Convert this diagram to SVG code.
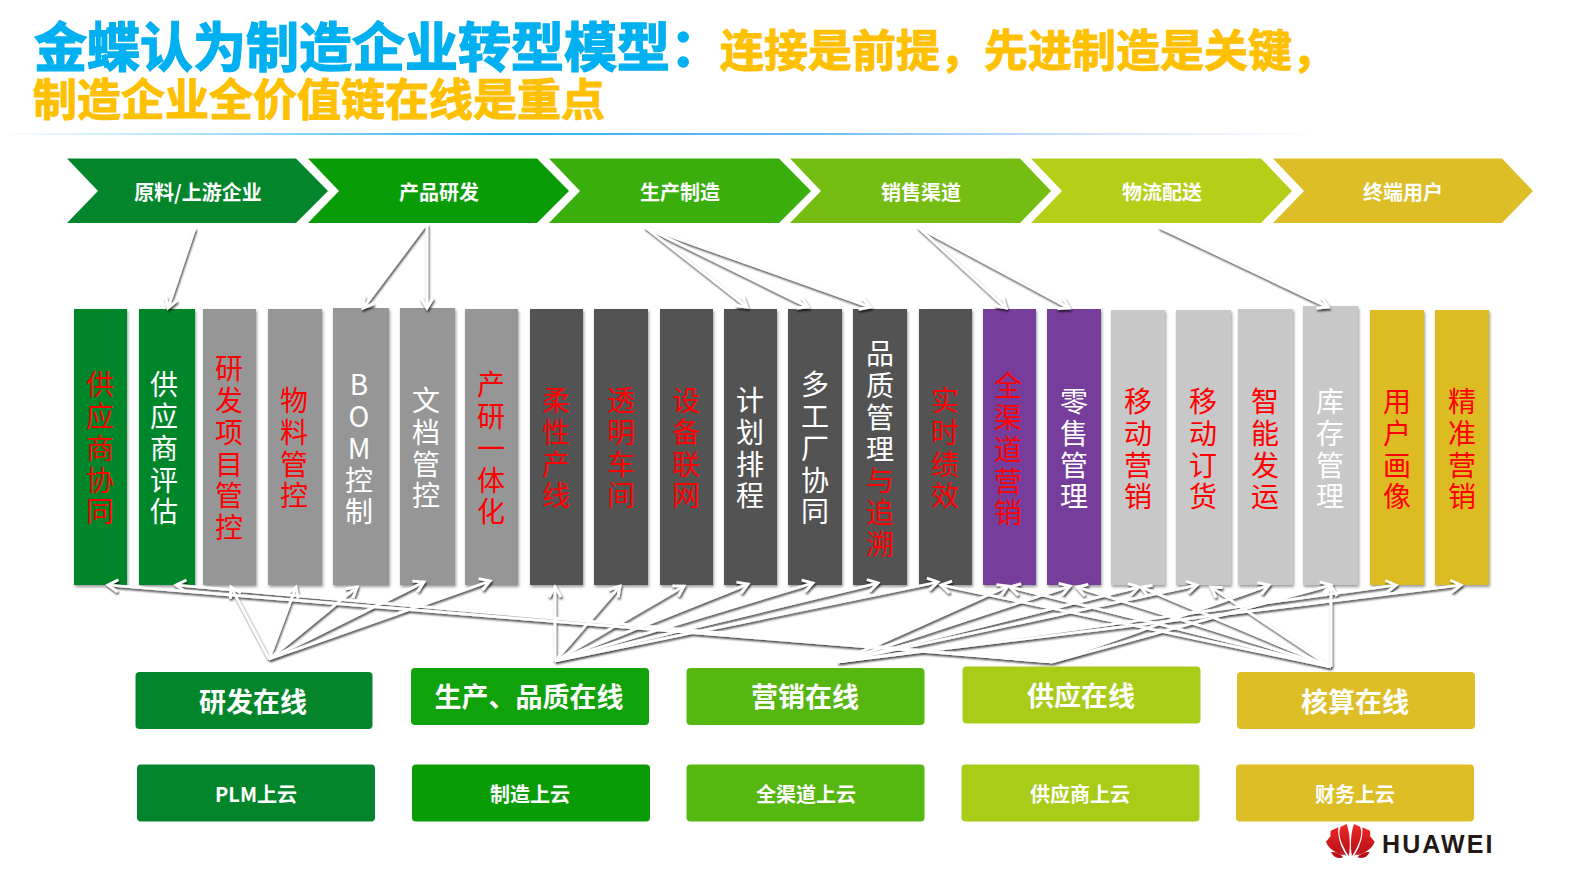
<svg xmlns="http://www.w3.org/2000/svg" width="1587" height="892" viewBox="0 0 1587 892">
<style>
text{font-family:"Noto Sans CJK SC","Noto Sans",sans-serif}
.t1{font-size:53px;font-weight:700;fill:#00b0f0;stroke:#00b0f0;stroke-width:1.4px}
.t2{font-size:44px;font-weight:700;fill:#ffc000;stroke:#ffc000;stroke-width:1px}
.ch{font-size:20px;font-weight:700;fill:#fff;text-anchor:middle}
.bx{font-size:27px;font-weight:700;fill:#fff;text-anchor:middle}
.by{font-size:20px;font-weight:700;fill:#fff;text-anchor:middle}
.col{font-size:28px;fill:#fff;writing-mode:vertical-rl;text-orientation:upright;letter-spacing:3.8px;text-anchor:middle}
.r{fill:#f00}
.g1{fill:#03862b}.g2{fill:#0a9c07}.g3{fill:#39ae0c}.g4{fill:#75bd12}.g5{fill:#b5cf18}.g6{fill:#ddbe26}
.gy{fill:#969696}.dk{fill:#535353}.pu{fill:#773c9b}.lt{fill:#c8c8c8}.au{fill:#ddbb24}
.cn path{fill:none;stroke:#fff;stroke-width:2.6;marker-end:url(#a)}
</style>
<defs>
<linearGradient id="rule" x1="0" x2="1" y1="0" y2="0"><stop offset="0" stop-color="#2db5ee" stop-opacity="0"/><stop offset=".38" stop-color="#2db5ee"/><stop offset=".62" stop-color="#6cbcf3"/><stop offset="1" stop-color="#c8c8ff" stop-opacity="0"/></linearGradient>
<linearGradient id="pet" gradientUnits="userSpaceOnUse" x1="0" x2="0" y1="70" y2="175"><stop offset="0" stop-color="#ee2a2a"/><stop offset="1" stop-color="#b20d12"/></linearGradient>
<filter id="s" x="-20%" y="-5%" width="140%" height="110%"><feDropShadow dx="1" dy="2" stdDeviation="1.5" flood-color="#000" flood-opacity=".4"/></filter>
<filter id="l" filterUnits="userSpaceOnUse" x="0" y="200" width="1587" height="500"><feDropShadow dx="1" dy="2" stdDeviation="1.3" flood-color="#000" flood-opacity=".75"/></filter>
<marker id="a" viewBox="0 0 16 16" refX="13" refY="8" markerWidth="16" markerHeight="16" markerUnits="userSpaceOnUse" orient="auto"><path d="M3 2L13 8L3 14" fill="none" stroke="#fff" stroke-width="2.8"/></marker>
</defs>
<rect width="1587" height="892" fill="#fff"/>
<g id="title">
<text class="t1" x="34" y="67">金蝶认为制造企业转型模型：</text>
<text class="t2" x="720" y="67">连接是前提，先进制造是关键，</text>
<text class="t2" x="33" y="116">制造企业全价值链在线是重点</text>
<rect x="0" y="133" width="1325" height="2" fill="url(#rule)"/>
</g>
<g id="chain">
<g id="c1"><path class="g1" d="M67 158.500H296L328 191L296 223H67L98 191Z"/><text class="ch" x="198" y="200">原料/上游企业</text></g>
<g id="c2"><path class="g2" d="M308 158.500H537L569 191L537 223H308L339 191Z"/><text class="ch" x="439" y="200">产品研发</text></g>
<g id="c3"><path class="g3" d="M549 158.500H779L811 191L779 223H549L580 191Z"/><text class="ch" x="680" y="200">生产制造</text></g>
<g id="c4"><path class="g4" d="M790 158.500H1020L1051 191L1020 223H790L821 191Z"/><text class="ch" x="921" y="200">销售渠道</text></g>
<g id="c5"><path class="g5" d="M1031 158.500H1261L1292 191L1261 223H1031L1062 191Z"/><text class="ch" x="1162" y="200">物流配送</text></g>
<g id="c6"><path class="g6" d="M1273 158.500H1502L1533 191L1502 223H1273L1304 191Z"/><text class="ch" x="1403" y="200">终端用户</text></g>
</g>
<g id="columns">
<g id="n1"><rect class="g1" x="74" y="309" width="53" height="276" filter="url(#s)"/><text class="col r" x="100" y="450">供应商协同</text></g>
<g id="n2"><rect class="g1" x="139" y="309" width="56" height="276" filter="url(#s)"/><text class="col" x="164" y="450">供应商评估</text></g>
<g id="n3"><rect class="gy" x="203" y="309" width="53" height="276" filter="url(#s)"/><text class="col r" x="229" y="450">研发项目管控</text></g>
<g id="n4"><rect class="gy" x="268" y="309" width="54" height="276" filter="url(#s)"/><text class="col r" x="294" y="450">物料管控</text></g>
<g id="n5"><rect class="gy" x="333" y="308" width="56" height="277" filter="url(#s)"/><text class="col" x="359" y="450">BOM控制</text></g>
<g id="n6"><rect class="gy" x="400" y="308" width="55" height="277" filter="url(#s)"/><text class="col" x="426" y="450">文档管控</text></g>
<g id="n7"><rect class="gy" x="465" y="309" width="53" height="276" filter="url(#s)"/><text class="col r" x="491" y="450">产研一体化</text></g>
<g id="n8"><rect class="dk" x="530" y="309" width="53" height="276" filter="url(#s)"/><text class="col r" x="556" y="450">柔性产线</text></g>
<g id="n9"><rect class="dk" x="594" y="309" width="54" height="276" filter="url(#s)"/><text class="col r" x="621" y="450">透明车间</text></g>
<g id="n10"><rect class="dk" x="660" y="309" width="53" height="276" filter="url(#s)"/><text class="col r" x="686" y="450">设备联网</text></g>
<g id="n11"><rect class="dk" x="724" y="309" width="53" height="276" filter="url(#s)"/><text class="col" x="750" y="450">计划排程</text></g>
<g id="n12"><rect class="dk" x="788" y="309" width="54" height="276" filter="url(#s)"/><text class="col" x="815" y="450">多工厂协同</text></g>
<g id="n13"><rect class="dk" x="853" y="309" width="54" height="276" filter="url(#s)"/><text class="col" x="880" y="451">品质管理<tspan class="r">与追溯</tspan></text></g>
<g id="n14"><rect class="dk" x="919" y="309" width="53" height="276" filter="url(#s)"/><text class="col r" x="945" y="450">实时绩效</text></g>
<g id="n15"><rect class="pu" x="983" y="309" width="53" height="276" filter="url(#s)"/><text class="col r" x="1008" y="451">全渠道营销</text></g>
<g id="n16"><rect class="pu" x="1047" y="309" width="54" height="276" filter="url(#s)"/><text class="col" x="1074" y="451">零售管理</text></g>
<g id="n17"><rect class="lt" x="1111" y="310" width="54" height="275" filter="url(#s)"/><text class="col r" x="1138" y="451">移动营销</text></g>
<g id="n18"><rect class="lt" x="1176" y="310" width="55" height="275" filter="url(#s)"/><text class="col r" x="1203" y="451">移动订货</text></g>
<g id="n19"><rect class="lt" x="1238" y="309" width="55" height="276" filter="url(#s)"/><text class="col r" x="1265" y="451">智能发运</text></g>
<g id="n20"><rect class="lt" x="1303" y="306" width="55" height="279" filter="url(#s)"/><text class="col" x="1330" y="451">库存管理</text></g>
<g id="n21"><rect class="au" x="1370" y="310" width="54" height="275" filter="url(#s)"/><text class="col r" x="1397" y="451">用户画像</text></g>
<g id="n22"><rect class="au" x="1435" y="310" width="54" height="275" filter="url(#s)"/><text class="col r" x="1462" y="451">精准营销</text></g>
</g>
<g id="connectors" class="cn" filter="url(#l)">
<path d="M195 228L168 308"/>
<path d="M426 224L363 308"/>
<path d="M427 224L427 308"/>
<path d="M645 227L747 307"/>
<path d="M645 227L808 307"/>
<path d="M645 227L870 307"/>
<path d="M918 227L1006 308"/>
<path d="M918 227L1069 308"/>
<path d="M1159 227L1328 307"/>
<path d="M1052 662L108 585"/>
<path d="M1052 662L176 585"/>
<path d="M269 659L231 587"/>
<path d="M269 659L296 587"/>
<path d="M269 659L357 587"/>
<path d="M269 659L424 582"/>
<path d="M269 659L490 581"/>
<path d="M555 661L555 587"/>
<path d="M555 661L620 586"/>
<path d="M555 661L684 586"/>
<path d="M555 661L748 584"/>
<path d="M555 661L813 583"/>
<path d="M555 661L878 583"/>
<path d="M555 661L938 582"/>
<path d="M838 662L1008 586"/>
<path d="M838 662L1070 586"/>
<path d="M838 662L1139 587"/>
<path d="M838 662L1197 585"/>
<path d="M838 662L1396 585"/>
<path d="M838 662L1461 585"/>
<path d="M1052 662L1269 585"/>
<path d="M1052 662L1331 585"/>
<path d="M1331 667L1331 586"/>
<path d="M1331 667L1211 587"/>
<path d="M1331 667L1141 587"/>
<path d="M1331 667L1077 587"/>
<path d="M1331 667L1010 587"/>
<path d="M1331 667L941 585"/>
</g>
<g id="boxes">
<g id="b1"><rect class="g1" x="135.500" y="672" width="237" height="57" rx="4"/><text class="bx" x="253" y="712">研发在线</text></g>
<g id="b2"><rect x="411" y="668" width="238" height="57" rx="4" fill="#10a20a"/><text class="bx" x="529" y="707">生产、品质在线</text></g>
<g id="b3"><rect x="686.500" y="668" width="238" height="57" rx="4" fill="#55b70f"/><text class="bx" x="805" y="707">营销在线</text></g>
<g id="b4"><rect x="962.500" y="666.500" width="238" height="57" rx="4" fill="#a8cc17"/><text class="bx" x="1081" y="706">供应在线</text></g>
<g id="b5"><rect class="g6" x="1237" y="672" width="238" height="57" rx="4"/><text class="bx" x="1355" y="712">核算在线</text></g>
<g id="d1"><rect class="g1" x="137" y="764.500" width="238" height="57" rx="4"/><text class="by" x="256" y="802">PLM上云</text></g>
<g id="d2"><rect x="412" y="764.500" width="238" height="57" rx="4" fill="#0a9c07"/><text class="by" x="530" y="802">制造上云</text></g>
<g id="d3"><rect x="686.500" y="764.500" width="238" height="57" rx="4" fill="#55b70f"/><text class="by" x="806" y="802">全渠道上云</text></g>
<g id="d4"><rect x="961.500" y="764.500" width="238" height="57" rx="4" fill="#a8cc17"/><text class="by" x="1080" y="802">供应商上云</text></g>
<g id="d5"><rect class="g6" x="1236" y="764.500" width="238" height="57" rx="4"/><text class="by" x="1355" y="802">财务上云</text></g>
</g>
<g id="logo">
<g transform="translate(1300 800) scale(.3333)" fill="url(#pet)">
<g id="petals">
<path d="M146 168C122 130 112 100 122 80L140 72C150 100 152 140 146 168Z"/>
<path d="M140 168C108 148 86 120 92 92L115 82C112 115 125 145 140 168Z"/>
<path d="M134 166C110 162 84 145 78 125L92 108C100 130 115 150 134 166Z"/>
<path d="M130 172C112 177 100 172 93 156C108 155 120 161 130 172Z"/>
</g>
<g transform="translate(302 0) scale(-1 1)">
<path d="M146 168C122 130 112 100 122 80L140 72C150 100 152 140 146 168Z"/>
<path d="M140 168C108 148 86 120 92 92L115 82C112 115 125 145 140 168Z"/>
<path d="M134 166C110 162 84 145 78 125L92 108C100 130 115 150 134 166Z"/>
<path d="M130 172C112 177 100 172 93 156C108 155 120 161 130 172Z"/>
</g>
</g>
<text x="1382" y="853" style="font-family:'Liberation Sans',sans-serif;font-size:25px;font-weight:700;fill:#231815;letter-spacing:2.1px">HUAWEI</text>
</g>
</svg>
